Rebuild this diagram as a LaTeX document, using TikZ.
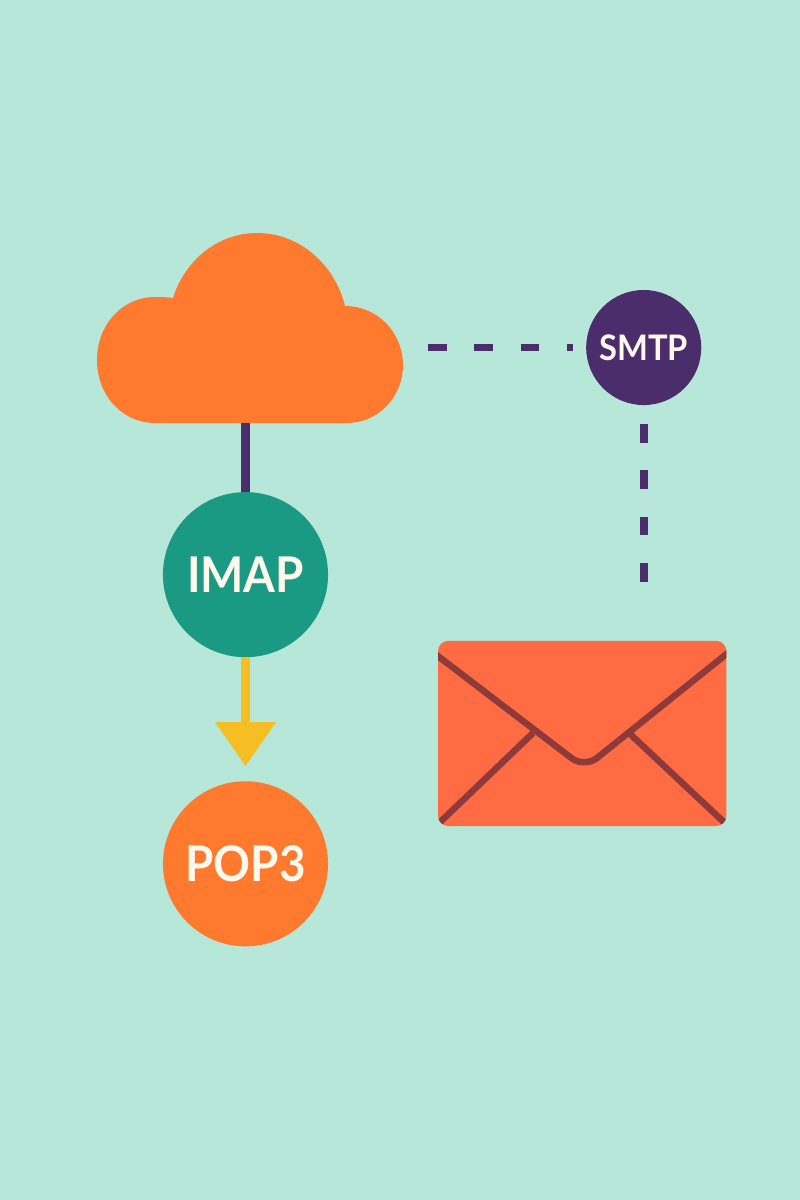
\documentclass[tikz,border=0pt]{standalone}
\usepackage{fontspec}
\setmainfont{Lato}[FakeStretch=0.93]
\usepackage{xcolor}
\usetikzlibrary{positioning, arrows.meta}
\definecolor{mailbg}{HTML}{B6E7D9}
\definecolor{mailorange}{HTML}{FF7A2E}
\definecolor{mailpurple}{HTML}{4B2D6B}
\definecolor{mailteal}{HTML}{1A9A82}
\definecolor{mailyellow}{HTML}{F6BE22}
\definecolor{mailcoral}{HTML}{FF6B43}
\definecolor{mailfold}{HTML}{8E3A3A}
\definecolor{mailtext}{HTML}{FFF8EC}
\begin{document}
\begin{tikzpicture}[
  x=0.01cm, y=-0.01cm,
  proto/.style={
    circle, inner sep=0pt, outer sep=0pt, text=mailtext,
    font=\fontsize{14}{16}\selectfont\bfseries
  },
  dashlink/.style={line width=0.077cm, color=mailpurple, dash pattern=on 0.185cm off 0.278cm},
  fold/.style={line width=0.065cm, color=mailfold},
]
\fill[mailbg] (0,0) rectangle (800,1200);

\fill[mailorange] (347,423) -- (155,423)
  .. controls (122,423) and (97,395) .. (97,360)
  .. controls (97,325) and (122,297) .. (155,297)
  .. controls (161,297) and (167,297) .. (173,298)
  .. controls (185,260) and (218,233) .. (257,233)
  .. controls (300,233) and (335,265) .. (345,306)
  .. controls (378,306) and (403,333) .. (403,365)
  .. controls (403,397) and (378,423) .. (347,423) -- cycle;
\node[inner sep=0pt, outer sep=0pt, minimum width=3.06cm, minimum height=1.9cm] (cloud) at (250,328) {};

\node[proto, fill=mailteal, minimum size=1.65cm, below=0.69cm of cloud, xshift=-0.045cm] (imap) {IMAP};
\node[proto, fill=mailorange, minimum size=1.65cm, below=1.24cm of imap] (pop) {POP3};
\node[proto, fill=mailpurple, minimum size=1.15cm, right=1.83cm of cloud, yshift=-0.195cm,
      font=\fontsize{10}{12}\selectfont\bfseries] (smtp) {SMTP};

\node[fill=mailcoral, rounded corners=0.1cm, inner sep=0pt, outer sep=0pt,
      minimum width=2.88cm, minimum height=1.85cm, below=2.357cm of smtp, xshift=-0.615cm] (mail) {};
\begin{scope}
  \clip[rounded corners=0.1cm] (mail.south west) rectangle (mail.north east);
  \draw[fold] (533,733) -- (436,826);
  \draw[fold] (629,733) -- (728,826);
  \draw[fold, rounded corners=0.16cm] (430,650) -- (584.5,768) -- (734,648);
\end{scope}

\draw[line width=0.095cm, color=mailpurple] (imap |- cloud.south) -- (imap.north);
\draw[line width=0.095cm, color=mailyellow, -{Triangle[width=0.58cm, length=0.44cm]}, shorten >=0.15cm] (imap) -- (pop);
\draw[dashlink, shorten <=0.25cm, shorten >=0.13cm] (cloud.east |- smtp) -- (smtp.west);
\draw[dashlink, shorten <=0.19cm, shorten >=0.58cm] (smtp.south) -- (smtp |- mail.north);
\end{tikzpicture}
\end{document}
